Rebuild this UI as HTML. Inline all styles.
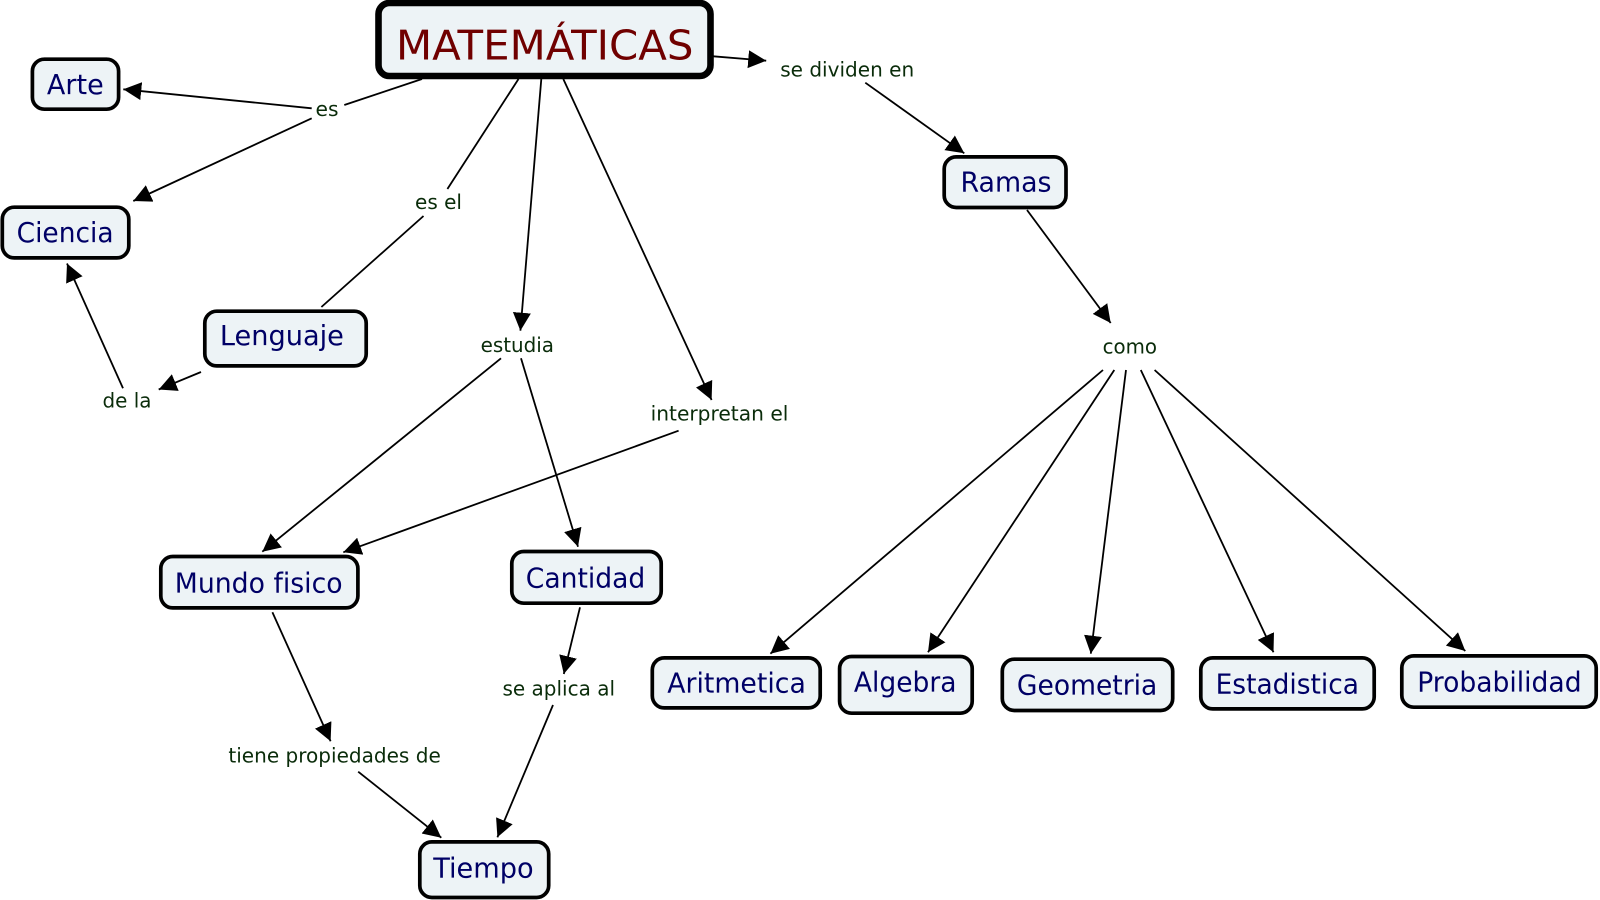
<!DOCTYPE html>
<html lang="es">
<head>
<meta charset="utf-8">
<title>Matemáticas</title>
<style>
html,body{margin:0;padding:0;background:#fff;width:1600px;height:900px;overflow:hidden}
svg{display:block;filter:blur(.3px)}
.n{fill:#edf3f6;stroke:#000;stroke-width:3.7}
.t{font-family:"DejaVu Sans",Verdana,sans-serif;font-size:27.5px;fill:#000066}
.l{font-family:"DejaVu Sans",Verdana,sans-serif;font-size:20.8px;fill:#0a2c0a}
line{stroke:#000;stroke-width:1.8;fill:none}
.a{marker-end:url(#h)}
</style>
</head>
<body>
<svg width="1600" height="900" viewBox="0 0 1600 900" xmlns="http://www.w3.org/2000/svg">
<defs>
<marker id="h" markerUnits="userSpaceOnUse" markerWidth="19" markerHeight="19" refX="18" refY="9" orient="auto">
<path d="M0,0 L18,9 L0,18 Z" fill="#000"/>
</marker>
</defs>
<rect width="1600" height="900" fill="#fff"/>

<line x1="422" y1="79" x2="344.3" y2="105"/>
<line class="a" x1="311.7" y1="108.3" x2="123.3" y2="89.3"/>
<line class="a" x1="311.7" y1="118.3" x2="133.3" y2="201"/>
<line x1="518.5" y1="79" x2="447.4" y2="189"/>
<line x1="423.5" y1="216" x2="321.4" y2="307"/>
<line class="a" x1="541.3" y1="79" x2="520.4" y2="330.7"/>
<line class="a" x1="563.3" y1="79" x2="711.6" y2="400"/>
<line class="a" x1="713.3" y1="56.3" x2="766.2" y2="60.7"/>
<line class="a" x1="865.3" y1="82.7" x2="964.3" y2="153.3"/>
<line class="a" x1="1027" y1="210" x2="1110.7" y2="323"/>
<line class="a" x1="201" y1="372" x2="158.7" y2="389.5"/>
<line class="a" x1="123" y1="388.3" x2="67" y2="263.5"/>
<line class="a" x1="501" y1="358.3" x2="262.3" y2="551.7"/>
<line class="a" x1="521" y1="358.3" x2="578" y2="546.7"/>
<line class="a" x1="678.6" y1="430.7" x2="343.3" y2="552.3"/>
<line class="a" x1="272.4" y1="612.3" x2="330.6" y2="741.3"/>
<line class="a" x1="358.2" y1="771.7" x2="441.3" y2="837.7"/>
<line class="a" x1="580" y1="607.3" x2="563.8" y2="674"/>
<line class="a" x1="553" y1="705" x2="497.4" y2="837.3"/>
<line class="a" x1="1103" y1="370" x2="770.4" y2="653.7"/>
<line class="a" x1="1114.3" y1="370" x2="928" y2="652.3"/>
<line class="a" x1="1126" y1="370" x2="1090.8" y2="653.7"/>
<line class="a" x1="1140.8" y1="370" x2="1273.5" y2="652.3"/>
<line class="a" x1="1154.6" y1="370" x2="1465.3" y2="651"/>

<rect x="378.5" y="3" width="332" height="73" rx="11" fill="#edf3f6" stroke="#000" stroke-width="6.6"/>
<rect class="n" x="32.4" y="59.2" width="86.2" height="50" rx="12"/>
<rect class="n" x="2.3" y="207.2" width="126.5" height="50.7" rx="12"/>
<rect class="n" x="204.8" y="311.2" width="161.4" height="54.7" rx="12"/>
<rect class="n" x="160.8" y="556.5" width="197.1" height="51.4" rx="12"/>
<rect class="n" x="511.8" y="551.5" width="149.4" height="51.7" rx="12"/>
<rect class="n" x="419.8" y="841.9" width="128.9" height="55.6" rx="12"/>
<rect class="n" x="652.3" y="657.9" width="167.9" height="50" rx="12"/>
<rect class="n" x="839.6" y="656.5" width="132.6" height="56.7" rx="12"/>
<rect class="n" x="1002.3" y="659.2" width="170.4" height="51.3" rx="12"/>
<rect class="n" x="1200.8" y="657.9" width="173.4" height="51" rx="12"/>
<rect class="n" x="1401.8" y="655.9" width="194.4" height="51.3" rx="12"/>
<rect class="n" x="944.2" y="156.9" width="121.8" height="50.6" rx="12"/>

<text x="396" y="59.3" font-family="'DejaVu Sans',Verdana,sans-serif" font-size="41" fill="#700000" textLength="297.5" lengthAdjust="spacingAndGlyphs">MATEMÁTICAS</text>
<text class="t" x="46.9" y="94" textLength="56.8" lengthAdjust="spacingAndGlyphs">Arte</text>
<text class="t" x="16.6" y="242" textLength="97" lengthAdjust="spacingAndGlyphs">Ciencia</text>
<text class="t" x="219.9" y="345" textLength="124" lengthAdjust="spacingAndGlyphs">Lenguaje</text>
<text class="t" x="174.8" y="592.7" textLength="167.8" lengthAdjust="spacingAndGlyphs">Mundo fisico</text>
<text class="t" x="525.8" y="587.3" textLength="119.5" lengthAdjust="spacingAndGlyphs">Cantidad</text>
<text class="t" x="433.2" y="877.7" textLength="100.4" lengthAdjust="spacingAndGlyphs">Tiempo</text>
<text class="t" x="667.2" y="692.3" textLength="138.7" lengthAdjust="spacingAndGlyphs">Aritmetica</text>
<text class="t" x="853.9" y="691.3" textLength="102.6" lengthAdjust="spacingAndGlyphs">Algebra</text>
<text class="t" x="1016.9" y="694.3" textLength="140.4" lengthAdjust="spacingAndGlyphs">Geometria</text>
<text class="t" x="1215.6" y="693.3" textLength="143.4" lengthAdjust="spacingAndGlyphs">Estadistica</text>
<text class="t" x="1417.2" y="691.3" textLength="164.4" lengthAdjust="spacingAndGlyphs">Probabilidad</text>
<text class="t" x="960.5" y="191.3" textLength="91" lengthAdjust="spacingAndGlyphs">Ramas</text>

<text class="l" x="315.5" y="116" textLength="23" lengthAdjust="spacingAndGlyphs">es</text>
<text class="l" x="415" y="209" textLength="47" lengthAdjust="spacingAndGlyphs">es el</text>
<text class="l" x="480.6" y="352" textLength="73.4" lengthAdjust="spacingAndGlyphs">estudia</text>
<text class="l" x="102.5" y="407.3" textLength="49" lengthAdjust="spacingAndGlyphs">de la</text>
<text class="l" x="650.6" y="420.7" textLength="137.8" lengthAdjust="spacingAndGlyphs">interpretan el</text>
<text class="l" x="780.2" y="76.7" textLength="134" lengthAdjust="spacingAndGlyphs">se dividen en</text>
<text class="l" x="1102.6" y="353.3" textLength="54.4" lengthAdjust="spacingAndGlyphs">como</text>
<text class="l" x="502.5" y="695.3" textLength="112.5" lengthAdjust="spacingAndGlyphs">se aplica al</text>
<text class="l" x="228.4" y="762.3" textLength="212.4" lengthAdjust="spacingAndGlyphs">tiene propiedades de</text>
</svg>
</body>
</html>
